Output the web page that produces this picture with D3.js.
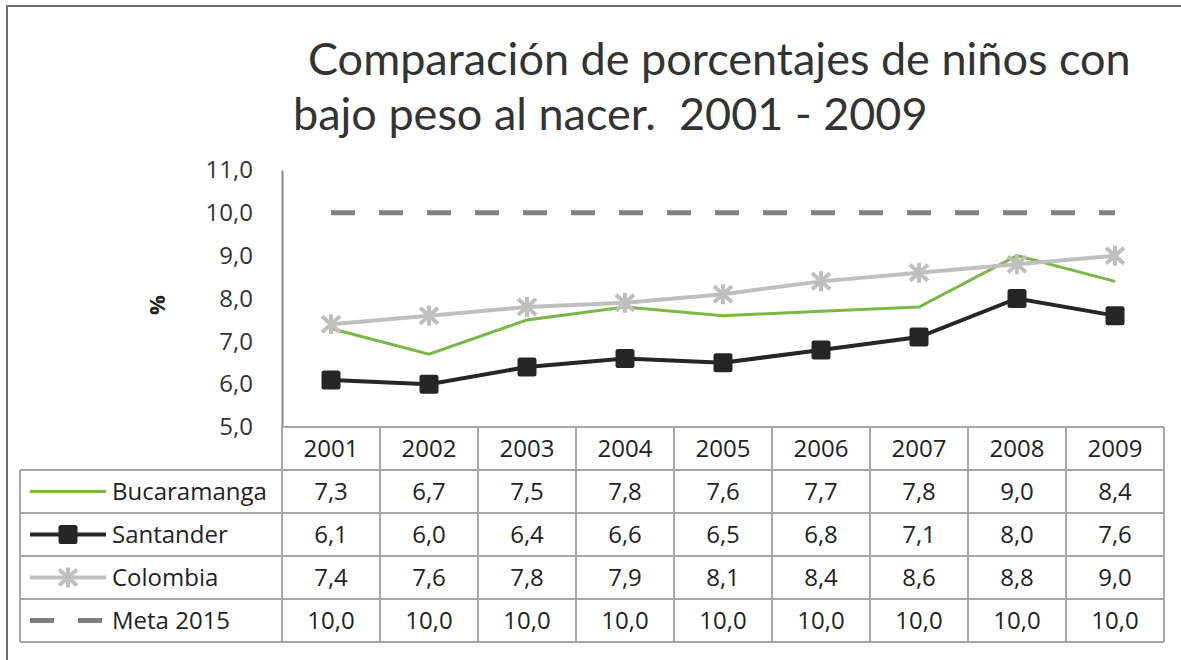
<!DOCTYPE html>
<html>
<head>
<meta charset="utf-8">
<script src="https://cdn.jsdelivr.net/npm/d3@7"></script>
<style>
  body { margin: 0; background: #fff; }
  text { font-family: "Open Sans", sans-serif; fill: #222; }
</style>
</head>
<body>
<div id="chart"></div>
<script>
// data
let years = ["2001","2002","2003","2004","2005","2006","2007","2008","2009"];
let bucaramanga = [7.3,6.7,7.5,7.8,7.6,7.7,7.8,9.0,8.4];
let santander = [6.1,6.0,6.4,6.6,6.5,6.8,7.1,8.0,7.6];
let colombia = [7.4,7.6,7.8,7.9,8.1,8.4,8.6,8.8,9.0];
let meta2015 = [10.0,10.0,10.0,10.0,10.0,10.0,10.0,10.0,10.0];
let seriesNames = ["Bucaramanga","Santander","Colombia","Meta 2015"];
let yTicks = [5,6,7,8,9,10,11];

let svg = d3.select("#chart").append("svg")
  .attr("width", 1181)
  .attr("height", 660);

// outer frame (top + left only)
svg.append("path")
  .attr("d", "M7,660 L7,6 L1181,6")
  .style("fill", "none")
  .style("stroke", "#6e6e6e")
  .style("stroke-width", 2);

// title
let title = svg.append("text")
  .style("font-family", "Lato, sans-serif")
  .style("font-size", "45px")
  .style("fill", "#333")
  .style("white-space", "pre");
title.append("tspan").attr("x", 308).attr("y", 75).text("Comparación de porcentajes de niños con");
title.append("tspan").attr("x", 293).attr("y", 130).text("bajo peso al nacer.  2001 - 2009");

let x = d3.scaleBand().domain(years).range([282, 1164]);
let y = d3.scaleLinear().domain([5, 11]).range([427, 170]);
let fmt = v => d3.format(".1f")(v).replace(".", ",");

// y axis
let yAxis = svg.append("g")
  .attr("transform", "translate(282,0)")
  .call(d3.axisLeft(y).tickValues(yTicks).tickSize(0).tickPadding(29).tickFormat(fmt));
yAxis.select(".domain").style("stroke", "#8a8a8a").style("stroke-width", 2);
yAxis.selectAll("text").style("font-size", "24px").style("font-family", "'Open Sans', sans-serif").style("fill", "#333");

svg.append("text")
  .attr("transform", "translate(165,305) rotate(-90)")
  .attr("text-anchor", "middle")
  .style("font-size", "22px")
  .style("font-weight", "bold")
  .text("%");

let cx = d => x(d) + x.bandwidth() / 2;

// series styles
let styles = [
  { data: bucaramanga, color: "#7ab648", width: 3, marker: null },
  { data: santander, color: "#262626", width: 4, marker: "square" },
  { data: colombia, color: "#bfbfbf", width: 4, marker: "star" },
  { data: meta2015, color: "#7f7f7f", width: 5, marker: null, dash: "24,24" }
];

let line = d3.line().x((d, i) => cx(years[i])).y(d => y(d));

// draw back to front: meta, santander, bucaramanga, colombia
[3, 1, 0, 2].forEach(k => {
  let s = styles[k];
  svg.append("path")
    .datum(s.data)
    .attr("d", line)
    .style("fill", "none")
    .style("stroke", s.color)
    .style("stroke-width", s.width)
    .style("stroke-dasharray", s.dash || null);
  if (s.marker) {
    svg.selectAll(null)
      .data(s.data)
      .enter()
      .append("g")
      .attr("transform", (d, i) => "translate(" + cx(years[i]) + "," + y(d) + ")")
      .call(drawMarker, s);
  }
});

function drawMarker(selection, s) {
  if (s.marker === "square") {
    selection.append("rect")
      .attr("x", -8.5).attr("y", -8.5)
      .attr("width", 17).attr("height", 17)
      .attr("rx", 1.5)
      .style("fill", s.color)
      .style("stroke", s.color)
      .style("stroke-width", 2);
  } else {
    selection.append("path")
      .attr("d", "M-9,-8L9,8M-9,8L9,-8M0,-10L0,10")
      .style("stroke", s.color)
      .style("stroke-width", 4);
  }
}

// data table
let rowTop = 427, rowH = 43;
let left = 20, right = 1164;
let grid = "#a6a6a6";
let fs = "24px";
let table = svg.append("g");

// header cells
table.selectAll(".yr")
  .data(years)
  .enter()
  .append("text")
  .attr("x", d => cx(d))
  .attr("y", rowTop + rowH / 2 + 8)
  .attr("text-anchor", "middle")
  .style("font-size", fs)
  .text(d => d);

// horizontal lines
for (let r = 0; r <= 5; r++) {
  let yy = rowTop + r * rowH;
  table.append("line")
    .attr("x1", r < 1 ? 282 : left).attr("x2", right)
    .attr("y1", yy).attr("y2", yy)
    .style("stroke", grid).style("stroke-width", 2);
}
// vertical lines
let xs = years.map(d => x(d)).concat([right]);
xs.forEach(xx => {
  table.append("line")
    .attr("x1", xx).attr("x2", xx)
    .attr("y1", rowTop).attr("y2", rowTop + 5 * rowH)
    .style("stroke", grid).style("stroke-width", 2);
});
table.append("line")
  .attr("x1", left).attr("x2", left)
  .attr("y1", rowTop + rowH).attr("y2", rowTop + 5 * rowH)
  .style("stroke", grid).style("stroke-width", 2);

// value rows
styles.forEach((s, k) => {
  let ry = rowTop + (k + 1) * rowH;
  let mid = ry + rowH / 2;
  table.selectAll(null)
    .data(s.data)
    .enter()
    .append("text")
    .attr("x", (d, i) => cx(years[i]))
    .attr("y", mid + 8)
    .attr("text-anchor", "middle")
    .style("font-size", fs)
    .text(d => fmt(d));

  // legend key
  table.append("line")
    .attr("x1", 30).attr("x2", 106)
    .attr("y1", mid).attr("y2", mid)
    .style("stroke", s.color)
    .style("stroke-width", s.width)
    .style("stroke-dasharray", s.dash || null);
  if (s.marker) {
    table.append("g")
      .attr("transform", "translate(68," + mid + ")")
      .call(drawMarker, s);
  }
  table.append("text")
    .attr("x", 112)
    .attr("y", mid + 8)
    .style("font-size", fs)
    .text(seriesNames[k]);
});
</script>
</body>
</html>
